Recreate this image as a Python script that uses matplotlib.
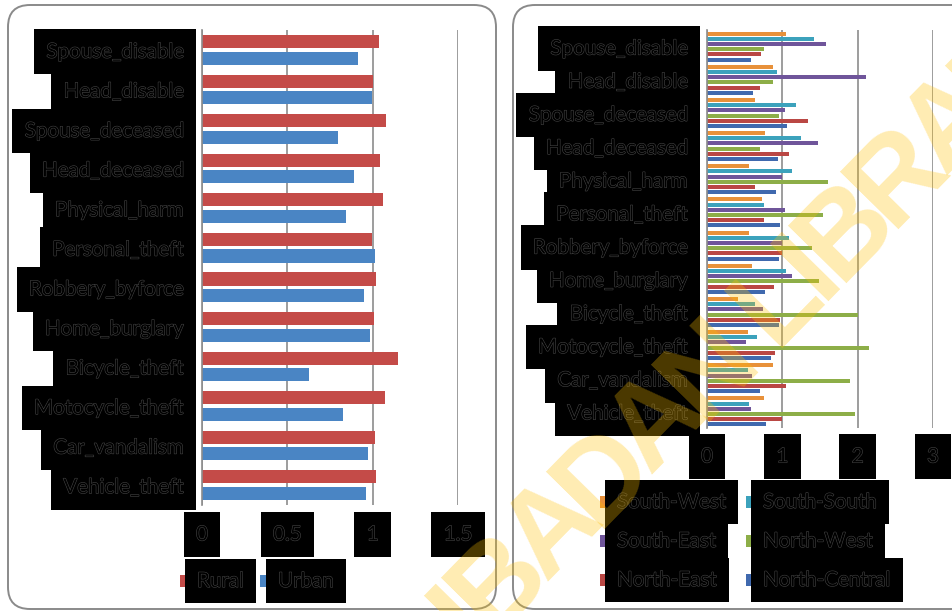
import numpy as np
import matplotlib.pyplot as plt
import matplotlib.patheffects as pe
from matplotlib.patches import FancyBboxPatch, Rectangle
from matplotlib.transforms import IdentityTransform
from matplotlib.ticker import FuncFormatter

W, H = 953, 611

crimes = ['Spouse_disable', 'Head_disable', 'Spouse_deceased', 'Head_deceased',
          'Physical_harm', 'Personal_theft', 'Robbery_byforce', 'Home_burglary',
          'Bicycle_theft', 'Motocycle_theft', 'Car_vandalism', 'Vehicle_theft']

# rural / urban ratios
rural = [1.035, 1.00, 1.08, 1.045, 1.063, 0.996, 1.022, 1.008, 1.147, 1.07, 1.012, 1.018]
urban = [0.914, 0.995, 0.797, 0.888, 0.845, 1.016, 0.947, 0.982, 0.628, 0.826, 0.975, 0.959]

# geopolitical zones
south_west = [1.05, 0.87, 0.64, 0.77, 0.56, 0.73, 0.56, 0.60, 0.41, 0.54, 0.87, 0.76]
south_south = [1.42, 0.93, 1.18, 1.25, 1.13, 0.76, 1.09, 1.05, 0.64, 0.66, 0.55, 0.56]
south_east = [1.58, 2.11, 1.03, 1.47, 0.99, 1.03, 1.00, 1.13, 0.74, 0.52, 0.60, 0.59]
north_west = [0.76, 0.88, 0.96, 0.71, 1.60, 1.54, 1.39, 1.49, 2.01, 2.15, 1.90, 1.96]
north_east = [0.72, 0.70, 1.34, 1.09, 0.64, 0.75, 0.99, 0.89, 0.97, 0.90, 1.05, 1.00]
north_central = [0.59, 0.61, 1.06, 0.94, 0.91, 0.97, 0.95, 0.77, 0.95, 0.85, 0.70, 0.78]

zones = ['South-West', 'South-South', 'South-East', 'North-West', 'North-East', 'North-Central']
zone_values = [south_west, south_south, south_east, north_west, north_east, north_central]
zone_colors = ['#E8913A', '#3CA2BC', '#6F559A', '#8DAE48', '#BA4744', '#4069AE']

left_ticks = [0, 0.5, 1, 1.5]
right_ticks = [0, 1, 2, 3]

FONT = 'Lato'
FS = 14.8
PAD = 0.6
GRID = '#8c8c8c'

plt.rcParams['font.family'] = FONT

fig = plt.figure(figsize=(W / 100, H / 100), dpi=100)


def px(x0, y0, x1, y1):
    return [x0 / W, 1 - y1 / H, (x1 - x0) / W, (y1 - y0) / H]


def blackout(t):
    t.set_color('black')
    t.set_bbox(dict(boxstyle=f'square,pad={PAD}', facecolor='black', edgecolor='none'))
    t.set_path_effects([pe.withStroke(linewidth=0.8, foreground='#454545')])


def style_axes(ax, ticks, xmax, ypad, xpad):
    ax.set_xlim(0, xmax)
    ax.set_ylim(len(crimes) - 0.5, -0.5)
    ax.set_xticks(ticks)
    ax.xaxis.set_major_formatter(FuncFormatter(lambda v, p: f'{v:g}'))
    ax.set_yticks(range(len(crimes)))
    ax.set_yticklabels(crimes)
    ax.tick_params(axis='y', length=0, pad=ypad, labelsize=FS)
    ax.tick_params(axis='x', length=0, pad=xpad, labelsize=FS)
    for s in ['top', 'right', 'bottom']:
        ax.spines[s].set_visible(False)
    ax.spines['left'].set_color(GRID)
    ax.spines['left'].set_linewidth(1.2)
    ax.grid(axis='x', color=GRID, linewidth=1.2)
    ax.set_axisbelow(True)
    for t in ax.get_yticklabels() + ax.get_xticklabels():
        blackout(t)


# rounded panel frames
for x0, x1 in [(8, 496), (513, 975)]:
    fig.patches.append(FancyBboxPatch((x0, H - 609), x1 - x0, 604,
                                      boxstyle='round,pad=0,rounding_size=22',
                                      facecolor='none', edgecolor='#8a8a8a',
                                      linewidth=1.4, transform=IdentityTransform()))

# left chart: rural vs urban
ax1 = fig.add_axes(px(202, 30, 458, 505))
y = np.arange(len(crimes))
ax1.barh(y - 0.21, rural, height=0.33, color='#C44B48')
ax1.barh(y + 0.21, urban, height=0.33, color='#4A85C4')
style_axes(ax1, left_ticks, 1.5, 13.3, 14.0)

# right chart: zones
ax2 = fig.add_axes(px(707, 30, 933, 428))
for i, (vals, c) in enumerate(zip(zone_values, zone_colors)):
    ax2.barh(y + (i - 2.5) * 0.157, vals, height=0.12, color=c)
style_axes(ax2, right_ticks, 3, 14.0, 13.3)

# legends
def legend_entry(xm, xt, yc, color, label):
    fig.patches.append(Rectangle(((xm) / W, 1 - (yc + 6) / H), 9 / W, 12 / H,
                                 facecolor=color, edgecolor='none',
                                 transform=fig.transFigure))
    t = fig.text(xt / W, 1 - yc / H, label, ha='left', va='center', fontsize=FS)
    blackout(t)

legend_entry(180, 197, 581, '#C44B48', 'Rural')
legend_entry(260, 278, 581, '#4A85C4', 'Urban')

for k, (name, c) in enumerate(zip(zones, zone_colors)):
    row, col = divmod(k, 2)
    xm = [600, 746][col]
    xt = [617, 763][col]
    legend_entry(xm, xt, 502 + 39 * row, c, name)

# diagonal watermark, set letter by letter with tight tracking
wm = 'IBADAN LIBRARY'
adv = np.array([0.278, 0.722, 0.722, 0.722, 0.722, 0.722, 0.278,
                0.611, 0.278, 0.722, 0.722, 0.722, 0.722, 0.667])
mid = np.cumsum(adv) - adv / 2
em, track, ang = 119, 0.87, np.radians(45.5)
ox, oy = 553, 530  # centre of the first "A"
for ch, m in zip(wm, mid):
    if ch == ' ':
        continue
    d = (m - mid[2]) * em * track
    fig.text((ox + d * np.cos(ang)) / W, 1 - (oy - d * np.sin(ang)) / H, ch,
             rotation=np.degrees(ang), rotation_mode='anchor',
             ha='center', va='center', fontsize=em * 0.72, fontweight='bold',
             family='Liberation Sans', color='#FFC000', alpha=0.3, zorder=20)

fig.savefig('out.png', dpi=100)
